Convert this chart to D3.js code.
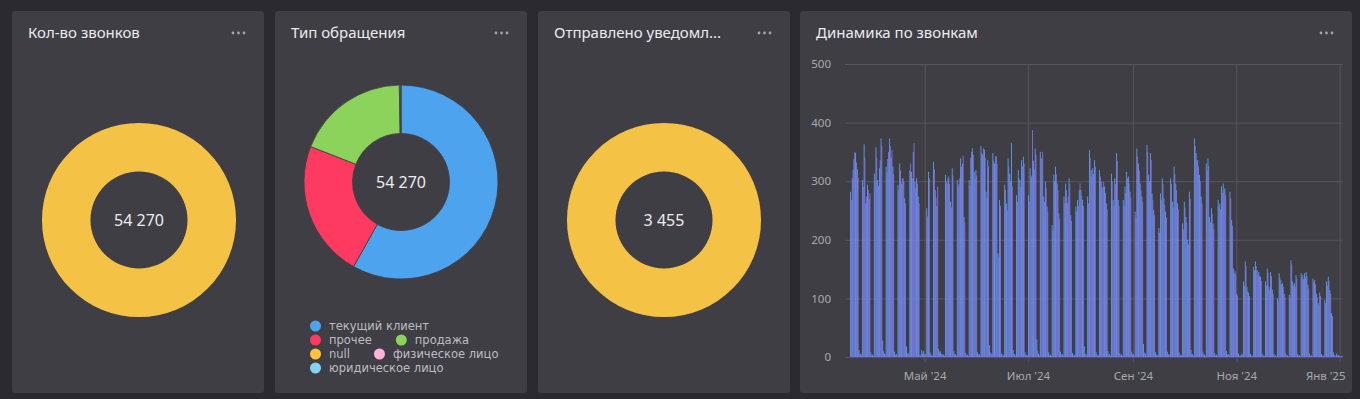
<!DOCTYPE html>
<html>
<head>
<meta charset="utf-8">
<script src="https://cdn.jsdelivr.net/npm/d3@7"></script>
<style>
  body { margin: 0; background: #2b2a31; }
  svg { display: block; font-family: "Noto Sans", sans-serif; }
</style>
</head>
<body>
<div id="dash"></div>
<script>
// KPI tiles
var kpiTitles = ["Кол-во звонков", "Отправлено уведомлений"];
var kpiValues = [54270, 3455];

// Type of request (donut)
var typeLabels = ["текущий клиент", "прочее", "продажа", "null", "физическое лицо", "юридическое лицо"];
var typeValues = [31550, 12380, 10190, 80, 40, 30];
var typeColors = ["#4da3ee", "#fe3a61", "#8bd35a", "#ffc53a", "#ffb5da", "#86d2f2"];

// Daily calls, starting Mon 18.03.2024 (rows = weeks, Mon..Sun)
var startDay = "2024-03-18";
var blueCalls = [
  282,305,338,348,320,12,6,   302,363,262,294,270,8,4,   313,358,302,322,373,28,6,
  325,338,373,340,325,9,5,    294,330,296,305,271,18,7,  318,316,350,299,305,274,4,
  12,10,6,254,316,8,4,        333,285,257,14,10,6,4,     311,296,308,265,322,10,5,
  302,295,339,330,239,7,4,    302,340,356,316,319,8,5,   360,345,354,282,336,20,6,
  348,330,342,177,268,6,4,    294,262,339,313,365,12,5,  276,319,302,336,342,8,4,
  276,322,308,335,356,30,6,   350,338,274,299,257,8,4,   225,311,325,296,245,9,5,
  274,296,262,305,242,7,4,    257,268,285,285,268,18,5,  274,353,319,322,336,8,4,
  319,299,290,291,262,10,5,   313,268,305,348,268,7,4,   268,291,316,308,282,9,5,
  248,356,330,296,274,22,6,   362,311,348,279,251,8,4,   220,279,305,271,248,9,5,
  305,265,325,296,262,8,4,    228,265,239,200,282,12,5,  373,348,336,311,274,9,4,
  330,339,239,254,228,7,4,    268,262,291,296,288,10,5,  282,234,151,146,108,6,3,
  6,129,163,120,110,5,3,      154,163,148,145,137,6,3,   129,151,120,145,115,5,3,
  100,143,131,126,108,6,3,    106,165,129,126,140,5,3,   143,140,143,145,123,6,3,
  134,131,108,92,110,5,3,     97,129,137,114,75,8,3,     6,3,2,2
];
var purpleCalls = [
  268,319,350,332,306,5,3,    290,340,274,285,279,3,2,   300,340,292,336,360,10,4,
  315,350,360,353,312,4,2,    285,318,305,298,262,6,3,   330,305,365,288,296,262,2,
  6,4,3,240,305,3,2,          320,272,291,8,5,3,2,       300,305,295,255,310,4,2,
  290,305,325,343,230,3,2,    292,350,345,305,310,4,2,   348,356,340,270,325,8,3,
  335,343,330,170,258,3,2,    285,250,325,300,291,5,2,   265,305,290,325,330,3,2,
  265,310,387,320,345,10,3,   340,350,265,288,248,3,2,   215,300,312,285,236,4,2,
  262,285,274,295,232,3,2,    248,258,296,275,258,6,2,   262,340,308,312,325,3,2,
  308,288,299,280,252,4,2,    300,258,295,335,258,3,2,   258,280,305,296,272,4,2,
  238,342,318,285,264,8,3,    350,300,336,268,242,3,2,   212,268,295,260,238,4,2,
  295,255,312,285,252,3,2,    218,255,230,192,270,5,2,   360,336,325,300,262,4,2,
  318,326,230,244,218,3,2,    258,252,280,285,276,4,2,   270,224,143,140,104,2,1,
  3,122,155,112,104,2,1,      148,155,140,138,130,2,1,   122,144,114,138,108,2,1,
  95,136,124,120,102,2,1,     100,158,122,120,133,2,1,   136,133,136,138,117,2,1,
  127,124,102,88,104,2,1,     92,122,130,108,70,3,1,     3,2,1,1
];
var tickDates = ["2024-05-01", "2024-07-01", "2024-09-01", "2024-11-01", "2025-01-01"];
var tickLabels = ["Май '24", "Июл '24", "Сен '24", "Ноя '24", "Янв '25"];
var yTicks = [0, 100, 200, 300, 400, 500];

var W = 1360, H = 399;
var panelBg = "#3f3e45";
var parse = d3.timeParse("%Y-%m-%d");

var svg = d3.select("#dash").append("svg")
  .attr("width", W).attr("height", H);

svg.append("rect").attr("width", W).attr("height", H).attr("fill", "#2b2a31");

// panel boxes
var panels = [
  {x: 12, w: 252, title: kpiTitles[0]},
  {x: 275, w: 252, title: "Тип обращения"},
  {x: 538, w: 252, title: kpiTitles[1]},
  {x: 800, w: 552, title: "Динамика по звонкам"}
];
var panelTop = 11, panelH = 382;

panels.forEach(function(p) {
  var g = svg.append("g").attr("transform", `translate(${p.x},${panelTop})`);
  g.append("rect").attr("width", p.w).attr("height", panelH)
    .attr("rx", 3).attr("fill", panelBg);
  var t = g.append("text").attr("x", 16).attr("y", 27)
    .attr("fill", "#ececee").attr("font-size", "15px")
    .text(p.title);
  // truncate long titles with ellipsis
  var maxW = p.w - 84;
  if (t.node().getComputedTextLength() > maxW) {
    var s = p.title;
    while (s.length && t.node().getComputedTextLength() > maxW) {
      s = s.slice(0, -1);
      t.text(s + "...");
    }
  }
  g.selectAll("circle.dot").data([0, 1, 2]).enter().append("circle")
    .attr("cx", d => p.w - 31 + d * 5.5).attr("cy", 22).attr("r", 1.4)
    .attr("fill", "#a3a3a8");
});

// ---- donut helper
function donut(cx, cy, values, colors, label) {
  var g = svg.append("g").attr("transform", `translate(${cx},${cy})`);
  var pie = d3.pie().sort(null).value(d => d);
  var arc = d3.arc().innerRadius(48.5).outerRadius(97);
  g.selectAll("path").data(pie(values)).enter().append("path")
    .attr("d", arc)
    .attr("fill", (d, i) => colors[i])
    .attr("stroke", values.length > 1 ? panelBg : "none")
    .attr("stroke-width", 0.8);
  g.append("text").attr("text-anchor", "middle").attr("dy", "0.36em")
    .attr("fill", "#ececee").attr("font-size", "16px")
    .text(d3.format(",")(label).replace(/,/g, " "));
}

donut(139, 220, [kpiValues[0]], ["#f4c244"], kpiValues[0]);
donut(664, 220, [kpiValues[1]], ["#f4c244"], kpiValues[1]);
donut(401, 182, typeValues, typeColors, d3.sum(typeValues));

// legend for type donut (flow layout)
var lg = svg.append("g").attr("font-family", "DejaVu Sans, sans-serif").attr("font-size", "11.5px");
var lx0 = 310, lx = lx0, ly = 326, lMax = 505;
typeLabels.forEach(function(name, i) {
  var item = lg.append("g");
  item.append("circle").attr("r", 5.5).attr("fill", typeColors[i]);
  var t = item.append("text").attr("x", 13.5).attr("dy", "0.35em")
    .attr("fill", "#bdbdc1").text(name);
  var w = 19 + t.node().getComputedTextLength();
  if (lx > lx0 && lx + w > lMax) { lx = lx0; ly += 14; }
  item.attr("transform", `translate(${lx + 5.5},${ly})`);
  lx += w + 24;
});

// ---- bar chart
var plot = {left: 845, right: 1343, top: 64, bottom: 357};
var days = blueCalls.map(function(v, i) {
  return {date: d3.timeDay.offset(parse(startDay), i), blue: v, purple: purpleCalls[i]};
});

var x = d3.scaleTime()
  .domain([parse("2024-03-15"), parse("2025-01-03")])
  .range([plot.left, plot.right]);
var y = d3.scaleLinear().domain([0, 500]).range([plot.bottom, plot.top]);

var chart = svg.append("g");

// horizontal grid + y labels
var yAxis = chart.append("g")
  .attr("transform", `translate(${plot.left},0)`)
  .call(d3.axisLeft(y).tickValues(yTicks).tickSize(-(plot.right - plot.left)).tickPadding(14));
yAxis.select(".domain").remove();
yAxis.selectAll("line").attr("stroke", "#56555c");
yAxis.selectAll("text").attr("fill", "#a9a9ad").attr("font-size", "11.5px")
  .attr("font-family", "Noto Sans, sans-serif");

// vertical grid + month labels
var tickD = tickDates.map(parse);
var xAxis = chart.append("g")
  .attr("transform", `translate(0,${plot.bottom + 5})`)
  .call(d3.axisBottom(x).tickValues(tickD)
    .tickSize(-(plot.bottom + 5 - plot.top)).tickPadding(10)
    .tickFormat((d, i) => tickLabels[i]));
xAxis.select(".domain").remove();
xAxis.selectAll("line").attr("stroke", "#56555c");
xAxis.selectAll("text").attr("fill", "#a9a9ad").attr("font-size", "11.5px")
  .attr("font-family", "Noto Sans, sans-serif");
// keep the last label inside the plot
xAxis.selectAll(".tick").filter((d, i) => i === tickD.length - 1)
  .select("text").attr("text-anchor", "end").attr("x", plot.right + 2 - x(tickD[tickD.length - 1]));

// bars: two series per day side by side
var bars = chart.append("g");
days.forEach(function(d) {
  var x0 = x(d.date), w = x(d3.timeDay.offset(d.date, 1)) - x0;
  bars.append("rect")
    .attr("x", x0 + w * 0.04).attr("width", w * 0.48)
    .attr("y", y(d.blue)).attr("height", y(0) - y(d.blue))
    .attr("fill", "#58abf5");
  bars.append("rect")
    .attr("x", x0 + w * 0.5).attr("width", w * 0.48)
    .attr("y", y(d.purple)).attr("height", y(0) - y(d.purple))
    .attr("fill", "#9072f5");
});
</script>
</body>
</html>
